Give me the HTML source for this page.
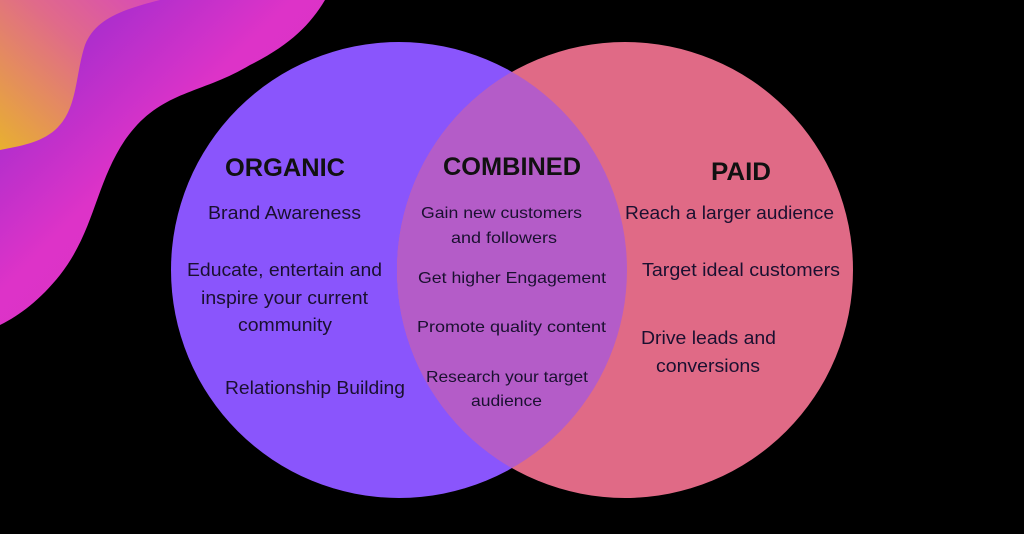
<!DOCTYPE html>
<html><head><style>
html,body{margin:0;padding:0;background:#000;}
svg{display:block}
text{font-family:"Liberation Sans",sans-serif;fill:#1a1030;}
</style></head><body>
<svg width="1024" height="534" viewBox="0 0 1024 534">
<defs>
<linearGradient id="g1" x1="0" y1="1" x2="1" y2="0">
<stop offset="0" stop-color="#e8b030"/><stop offset="0.6" stop-color="#e06a8a"/><stop offset="1" stop-color="#d84ab8"/>
</linearGradient>
<linearGradient id="g2" x1="0" y1="0" x2="1" y2="1">
<stop offset="0" stop-color="#8a2ad0"/><stop offset="0.45" stop-color="#dd33c8"/><stop offset="1" stop-color="#d830c0"/>
</linearGradient>
</defs>
<rect width="1024" height="534" fill="#000"/>
<path d="M0,0 L325,0 C310,25 290,45 250,65 C200,95 160,90 125,140 C95,185 95,230 60,275 C40,300 20,315 0,325 Z" fill="url(#g2)"/>
<path d="M0,0 L160,0 C120,10 95,20 85,45 C75,75 78,110 55,130 C40,143 20,146 0,150 Z" fill="url(#g1)"/>
<circle cx="399" cy="270" r="228" fill="#8a55fc"/>
<circle cx="625" cy="270" r="228" fill="#e06a86"/>
<clipPath id="c"><circle cx="399" cy="270" r="228"/></clipPath>
<circle cx="625" cy="270" r="228" fill="#b45cc8" clip-path="url(#c)"/>
<g font-weight="bold" font-size="25" lengthAdjust="spacingAndGlyphs">
<text x="225" y="176" textLength="120" lengthAdjust="spacingAndGlyphs" style="fill:#111">ORGANIC</text>
<text x="443" y="175" textLength="138" lengthAdjust="spacingAndGlyphs" style="fill:#111">COMBINED</text>
<text x="711" y="180" textLength="60" lengthAdjust="spacingAndGlyphs" style="fill:#111">PAID</text>
</g>
<g font-size="18">
<text x="208" y="219" textLength="153" lengthAdjust="spacingAndGlyphs">Brand Awareness</text>
<text x="187" y="276" textLength="195" lengthAdjust="spacingAndGlyphs">Educate, entertain and</text>
<text x="201" y="304" textLength="167" lengthAdjust="spacingAndGlyphs">inspire your current</text>
<text x="238" y="331" textLength="94" lengthAdjust="spacingAndGlyphs">community</text>
<text x="225" y="394" textLength="180" lengthAdjust="spacingAndGlyphs">Relationship Building</text>
<text x="625" y="219" textLength="209" lengthAdjust="spacingAndGlyphs">Reach a larger audience</text>
<text x="642" y="276" textLength="198" lengthAdjust="spacingAndGlyphs">Target ideal customers</text>
<text x="641" y="344" textLength="135" lengthAdjust="spacingAndGlyphs">Drive leads and</text>
<text x="656" y="372" textLength="104" lengthAdjust="spacingAndGlyphs">conversions</text>
</g>
<g font-size="16">
<text x="421" y="218" textLength="161" lengthAdjust="spacingAndGlyphs">Gain new customers</text>
<text x="451" y="243" textLength="106" lengthAdjust="spacingAndGlyphs">and followers</text>
<text x="418" y="283" textLength="188" lengthAdjust="spacingAndGlyphs">Get  higher Engagement</text>
<text x="417" y="332" textLength="189" lengthAdjust="spacingAndGlyphs">Promote quality content</text>
<text x="426" y="382" textLength="162" lengthAdjust="spacingAndGlyphs">Research your target</text>
<text x="471" y="406" textLength="71" lengthAdjust="spacingAndGlyphs">audience</text>
</g>
</svg>
</body></html>
